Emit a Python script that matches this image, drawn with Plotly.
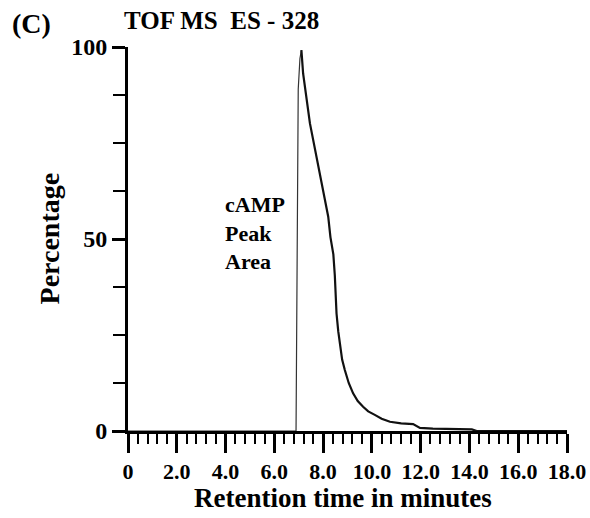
import plotly.graph_objects as go

# ---- data ----
baseline_t = [0.0, 6.89]
baseline_p = [0.0, 0.0]

rise_t = [6.89, 6.93, 6.98, 7.05, 7.11]
rise_p = [0.0, 50.0, 89.0, 97.0, 99.2]

decay_t = [7.11, 7.18, 7.46, 7.73, 8.0, 8.21, 8.3, 8.42, 8.48, 8.55, 8.62, 8.69,
           8.78, 8.89, 9.05, 9.23, 9.42, 9.64, 9.85, 10.12, 10.4, 10.74, 11.2,
           11.69, 11.97, 12.5, 13.3, 14.1, 14.3, 18.0]
decay_p = [99.2, 93.1, 80.1, 71.4, 62.8, 55.8, 50.5, 46.0, 40.5, 30.6, 26.0, 22.0,
           18.6, 15.9, 12.5, 9.8, 7.8, 6.3, 5.1, 4.2, 3.2, 2.4, 2.0,
           1.8, 0.8, 0.6, 0.5, 0.4, 0.0, 0.0]

x_ticks = [0, 2, 4, 6, 8, 10, 12, 14, 16, 18]
x_ticklabels = ["0", "2.0", "4.0", "6.0", "8.0", "10.0", "12.0", "14.0", "16.0", "18.0"]
y_ticks = [0, 50, 100]
y_ticklabels = ["0", "50", "100"]

FONT = "Liberation Serif"

fig = go.Figure()
fig.add_trace(go.Scatter(x=baseline_t, y=baseline_p, mode="lines",
                         line=dict(color="#222222", width=1.2), showlegend=False))
fig.add_trace(go.Scatter(x=rise_t, y=rise_p, mode="lines",
                         line=dict(color="#333333", width=1.2), showlegend=False))
fig.add_trace(go.Scatter(x=decay_t, y=decay_p, mode="lines",
                         line=dict(color="#111111", width=2.2), showlegend=False))

fig.update_layout(
    width=590, height=518,
    margin=dict(l=128, r=23, t=47, b=87, autoexpand=False),
    paper_bgcolor="white", plot_bgcolor="white",
    font=dict(family=FONT, color="black"),
    showlegend=False,
)

fig.update_xaxes(
    range=[0, 18], showgrid=False, zeroline=False, automargin=False,
    showline=True, linecolor="black", linewidth=2.5,
    ticks="outside", ticklen=19, tickwidth=2.5, tickcolor="black",
    tickvals=x_ticks, ticktext=x_ticklabels,
    tickfont=dict(family=FONT, size=22, weight="bold", color="black"),
    minor=dict(dtick=0.4, ticks="outside", ticklen=10, tickwidth=1.5, tickcolor="black"),
)
fig.update_yaxes(
    range=[0, 100], showgrid=False, zeroline=False, automargin=False,
    showline=True, linecolor="black", linewidth=3,
    ticks="outside", ticklen=13, tickwidth=3, tickcolor="black",
    tickvals=y_ticks, ticktext=y_ticklabels,
    tickfont=dict(family=FONT, size=24, weight="bold", color="black"),
    minor=dict(dtick=12.5, ticks="outside", ticklen=12, tickwidth=1.5, tickcolor="black"),
)

fig.add_annotation(text="cAMP<br>Peak<br>Area", xref="x", yref="y", x=3.9, y=51.6,
                   xanchor="left", yanchor="middle", align="left", showarrow=False,
                   font=dict(family=FONT, size=22, weight="bold", color="black"))
fig.add_annotation(text="TOF MS  ES - 328", xref="paper", yref="paper", x=-0.014, y=1.068,
                   xanchor="left", yanchor="middle", showarrow=False,
                   font=dict(family=FONT, size=25, weight="bold", color="black"))
fig.add_annotation(text="(C)", xref="paper", yref="paper", x=-0.269, y=1.06,
                   xanchor="left", yanchor="middle", showarrow=False,
                   font=dict(family=FONT, size=28, weight="bold", color="black"))
fig.add_annotation(text="Retention time in minutes", xref="paper", yref="paper", x=0.489, y=-0.175,
                   xanchor="center", yanchor="middle", showarrow=False,
                   font=dict(family=FONT, size=27, weight="bold", color="black"))
fig.add_annotation(text="Percentage", xref="paper", yref="paper", x=-0.178, y=0.501,
                   xanchor="center", yanchor="middle", textangle=-90, showarrow=False,
                   font=dict(family=FONT, size=28, weight="bold", color="black"))

fig.write_html("out.html", config={"displayModeBar": False},
               post_script="document.body.style.margin='0';")
